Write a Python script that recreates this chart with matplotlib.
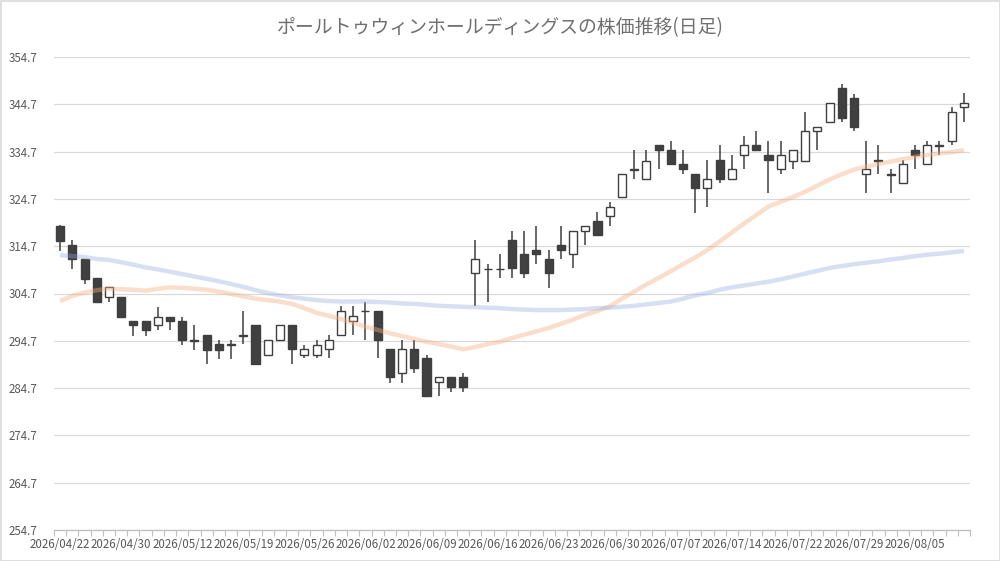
import matplotlib
matplotlib.use("Agg")
import matplotlib.pyplot as plt
from matplotlib.patches import Rectangle
import numpy as np

plt.rcParams['font.family'] = ['Noto Sans CJK JP', 'DejaVu Sans']

title = "ポールトゥウィンホールディングスの株価推移(日足)"

dates = [
    "2026/04/22", "2026/04/23", "2026/04/24", "2026/04/27", "2026/04/28", "2026/04/30",
    "2026/05/01", "2026/05/07", "2026/05/08", "2026/05/11", "2026/05/12", "2026/05/13",
    "2026/05/14", "2026/05/15", "2026/05/18", "2026/05/19", "2026/05/20", "2026/05/21",
    "2026/05/22", "2026/05/25", "2026/05/26", "2026/05/27", "2026/05/28", "2026/05/29",
    "2026/06/01", "2026/06/02", "2026/06/03", "2026/06/04", "2026/06/05", "2026/06/08",
    "2026/06/09", "2026/06/10", "2026/06/11", "2026/06/12", "2026/06/15", "2026/06/16",
    "2026/06/17", "2026/06/18", "2026/06/19", "2026/06/22", "2026/06/23", "2026/06/24",
    "2026/06/25", "2026/06/26", "2026/06/29", "2026/06/30", "2026/07/01", "2026/07/02",
    "2026/07/03", "2026/07/06", "2026/07/07", "2026/07/08", "2026/07/09", "2026/07/10",
    "2026/07/13", "2026/07/14", "2026/07/15", "2026/07/16", "2026/07/17", "2026/07/21",
    "2026/07/22", "2026/07/23", "2026/07/24", "2026/07/27", "2026/07/28", "2026/07/29",
    "2026/07/30", "2026/07/31", "2026/08/03", "2026/08/04", "2026/08/05", "2026/08/06",
    "2026/08/07", "2026/08/10", "2026/08/12",
]

opens = [319.0, 315.0, 311.9, 307.9, 303.9, 303.9, 298.8, 298.8, 298.0, 299.8,
         298.8, 294.8, 295.9, 294.0, 294.0, 295.7, 298.0, 291.8, 294.8, 298.0,
         291.8, 291.8, 293.0, 295.9, 298.9, 301.0, 301.0, 293.0, 287.8, 293.0,
         291.0, 285.9, 287.0, 287.0, 309.0, 309.95, 309.95, 316.0, 313.0, 313.9,
         312.0, 314.9, 313.0, 317.9, 320.0, 321.0, 325.0, 330.95, 329.0, 336.0,
         335.0, 332.0, 329.9, 327.0, 332.9, 329.0, 333.9, 336.0, 333.9, 331.0,
         332.8, 332.8, 339.0, 340.9, 348.1, 346.0, 329.9, 332.9, 329.9, 328.0,
         335.0, 332.0, 336.0, 336.9, 344.1]
highs = [319.2, 316.0, 312.0, 308.0, 306.1, 303.9, 298.8, 298.8, 301.9, 299.8,
         299.8, 298.0, 295.9, 294.8, 294.8, 301.0, 298.0, 294.8, 298.0, 298.0,
         293.9, 294.9, 295.9, 302.1, 302.1, 303.0, 301.0, 293.0, 294.8, 294.8,
         291.8, 287.0, 287.0, 287.8, 316.0, 310.9, 313.0, 318.0, 318.0, 319.0,
         313.9, 319.0, 317.9, 318.9, 321.9, 324.0, 329.9, 335.0, 335.0, 336.0,
         336.9, 335.0, 329.9, 332.9, 336.0, 333.9, 338.0, 339.0, 336.9, 336.9,
         335.0, 343.0, 340.0, 344.9, 348.9, 346.9, 336.9, 336.0, 331.0, 332.9,
         336.0, 336.9, 336.9, 344.1, 347.0]
lows = [313.7, 309.9, 306.8, 302.7, 302.8, 299.8, 295.8, 295.8, 296.9, 296.9,
        293.8, 292.8, 289.9, 290.9, 290.9, 294.0, 289.9, 291.8, 294.8, 289.9,
        291.0, 291.0, 291.0, 295.9, 295.9, 294.8, 291.0, 285.8, 285.8, 287.8,
        283.0, 283.0, 283.8, 283.8, 302.1, 302.8, 307.9, 307.9, 307.9, 310.9,
        305.9, 312.0, 310.0, 314.9, 317.0, 318.9, 325.0, 329.0, 329.0, 331.0,
        332.0, 329.9, 321.8, 322.9, 328.0, 329.0, 331.0, 335.0, 325.9, 329.9,
        331.0, 332.8, 335.0, 340.9, 340.9, 339.0, 325.9, 329.9, 325.9, 328.0,
        331.0, 332.0, 333.9, 336.0, 340.9]
closes = [315.9, 311.9, 307.8, 302.8, 306.1, 299.8, 298.0, 296.9, 299.8, 298.8,
          294.8, 294.65, 292.8, 292.8, 293.9, 295.9, 289.9, 294.8, 298.0, 293.0,
          293.0, 293.9, 294.8, 301.0, 300.0, 300.9, 294.8, 287.0, 293.0, 288.9,
          283.0, 287.0, 284.9, 284.9, 312.0, 309.8, 309.8, 310.0, 309.0, 313.0,
          309.0, 313.9, 317.9, 318.9, 317.0, 322.9, 329.9, 330.8, 332.8, 335.0,
          332.0, 331.0, 327.0, 329.0, 329.0, 331.0, 336.0, 335.0, 332.9, 333.9,
          335.0, 339.0, 340.0, 344.9, 341.9, 340.0, 331.0, 332.75, 329.75, 332.0,
          333.9, 336.0, 335.85, 343.0, 344.9]

ma_short = [303.1, 304.2, 304.9, 305.4, 305.7, 305.6, 305.5, 305.3, 305.7, 306.0,
            305.9, 305.7, 305.5, 305.1, 304.6, 304.1, 303.6, 303.3, 303.0, 302.5,
            301.6, 300.6, 300.0, 299.3, 298.5, 297.7, 297.0, 296.3, 295.7, 295.1,
            294.5, 294.0, 293.5, 292.9, 293.4, 294.0, 294.5, 295.3, 296.0, 296.7,
            297.4, 298.3, 299.2, 300.2, 301.0, 302.0, 303.6, 305.1, 306.6, 308.0,
            309.4, 310.9, 312.3, 313.9, 315.7, 317.6, 319.5, 321.3, 323.1, 324.1,
            325.1, 326.2, 327.5, 328.8, 329.9, 330.9, 331.5, 332.1, 332.6, 333.1,
            333.6, 334.0, 334.3, 334.6, 335.0]
ma_long = [312.8, 312.6, 312.4, 312.0, 311.8, 311.3, 310.8, 310.2, 309.8, 309.3,
           308.8, 308.3, 307.8, 307.3, 306.7, 306.1, 305.4, 304.8, 304.3, 303.9,
           303.6, 303.3, 303.1, 303.0, 303.0, 303.0, 302.9, 302.8, 302.6, 302.5,
           302.3, 302.1, 302.0, 301.9, 301.8, 301.7, 301.6, 301.4, 301.3, 301.2,
           301.2, 301.2, 301.3, 301.4, 301.6, 301.7, 301.9, 302.1, 302.4, 302.7,
           303.0, 303.6, 304.3, 304.8, 305.5, 306.0, 306.4, 306.8, 307.2, 307.7,
           308.3, 308.9, 309.5, 310.1, 310.5, 310.9, 311.2, 311.5, 311.9, 312.2,
           312.6, 312.9, 313.1, 313.4, 313.7]

yticks = [254.7, 264.7, 274.7, 284.7, 294.7, 304.7, 314.7, 324.7, 334.7, 344.7, 354.7]

W, H = 1000, 561
fig = plt.figure(figsize=(W / 100, H / 100), dpi=100)
ax = fig.add_axes([54 / W, 1 - 530 / H, (970 - 54) / W, (530 - 57) / H])

x = np.arange(len(dates))
o = np.array(opens); c = np.array(closes)
h = np.array(highs); l = np.array(lows)
up = c >= o
edge = '#3f3f3f'

ax.vlines(x, l, h, color=edge, lw=1.1, zorder=2)
body_bottom = np.minimum(o, c)
body_h = np.maximum(np.abs(c - o), 0.12)
face = np.where(up, 'white', '#404040')
ax.bar(x, body_h, bottom=body_bottom, width=0.66, color=face,
       edgecolor=edge, linewidth=1.0, zorder=3)

ax.plot(x, ma_short, color='#F4B183', lw=3.2, alpha=0.42, zorder=4,
        solid_capstyle='butt')
ax.plot(x, ma_long, color='#8FAADC', lw=3.2, alpha=0.36, zorder=4,
        solid_capstyle='butt')

ax.set_xlim(-0.5, len(dates) - 0.5)
ax.set_ylim(yticks[0], yticks[-1])
ax.set_yticks(yticks)
ax.set_yticklabels([f"{v:.1f}" for v in yticks])
ax.yaxis.grid(True, color='#d9d9d9', lw=0.9)
ax.set_axisbelow(True)

ax.set_xticks(x[::5])
ax.set_xticklabels([dates[i] for i in x[::5]])
ax.set_xticks(np.arange(-0.5, len(dates), 1.0), minor=True)
ax.tick_params(axis='x', which='major', length=0, pad=6, labelsize=8.3,
               colors='#595959')
ax.tick_params(axis='x', which='minor', length=4, width=0.8, color='#bfbfbf')
ax.tick_params(axis='y', length=0, pad=12, labelsize=8.3, colors='#595959')
for lab in ax.get_yticklabels():
    lab.set_horizontalalignment('right')

for s in ['top', 'right', 'left']:
    ax.spines[s].set_visible(False)
ax.spines['bottom'].set_color('#bfbfbf')
ax.spines['bottom'].set_linewidth(0.9)

fig.text(0.5, 1 - 28 / H, title, ha='center', va='center', fontsize=13.6,
         color='#707070')

fig.patches.append(Rectangle((0.5 / W, 0.5 / H), 1 - 1 / W, 1 - 1 / H,
                             transform=fig.transFigure, fill=False,
                             edgecolor='#d9d9d9', lw=1.2))

fig.savefig('out.png', dpi=100)
